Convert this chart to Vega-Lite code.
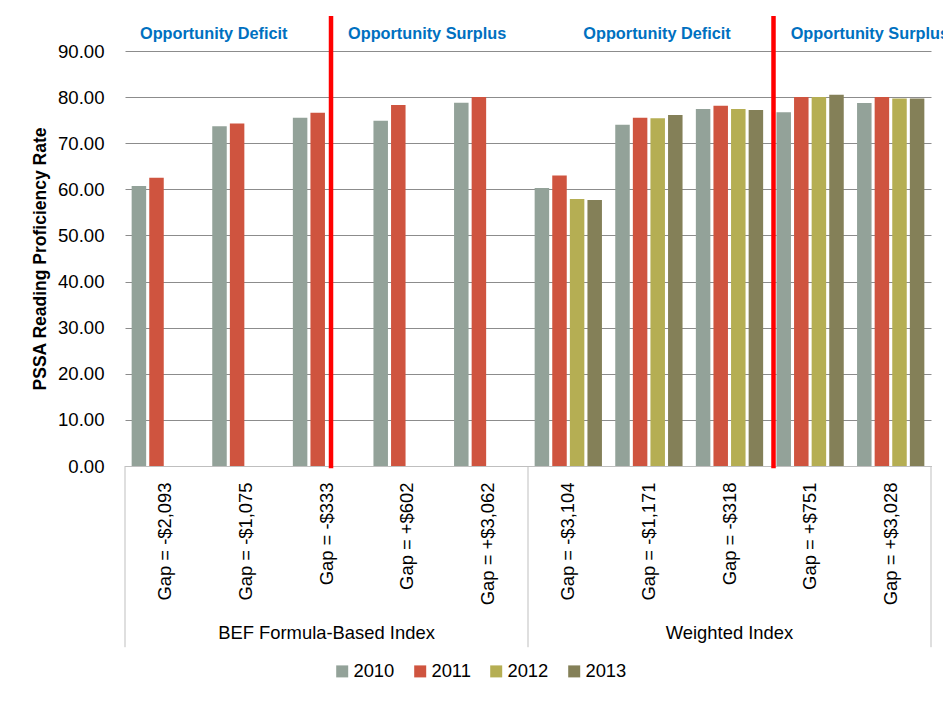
{
  "$schema": "https://vega.github.io/schema/vega-lite/v6.json",
  "width": 806,
  "height": 415,
  "autosize": {"type": "none"},
  "padding": {"left": 125, "top": 51, "right": 12, "bottom": 243},
  "background": "white",
  "config": {
    "font": "Liberation Sans",
    "view": {"stroke": null},
    "axis": {"labelColor": "#000000", "titleColor": "#000000"}
  },
  "layer": [
    {
      "data": {"values": [
        {"group": "BEF Formula-Based Index", "cat": "Gap = -$2,093", "year": "2010", "value": 60.7},
        {"group": "BEF Formula-Based Index", "cat": "Gap = -$2,093", "year": "2011", "value": 62.5},
        {"group": "BEF Formula-Based Index", "cat": "Gap = -$1,075", "year": "2010", "value": 73.7},
        {"group": "BEF Formula-Based Index", "cat": "Gap = -$1,075", "year": "2011", "value": 74.3},
        {"group": "BEF Formula-Based Index", "cat": "Gap = -$333", "year": "2010", "value": 75.5},
        {"group": "BEF Formula-Based Index", "cat": "Gap = -$333", "year": "2011", "value": 76.6},
        {"group": "BEF Formula-Based Index", "cat": "Gap = +$602", "year": "2010", "value": 74.9},
        {"group": "BEF Formula-Based Index", "cat": "Gap = +$602", "year": "2011", "value": 78.3},
        {"group": "BEF Formula-Based Index", "cat": "Gap = +$3,062", "year": "2010", "value": 78.8},
        {"group": "BEF Formula-Based Index", "cat": "Gap = +$3,062", "year": "2011", "value": 80.0},
        {"group": "Weighted Index", "cat": "Gap = -$3,104", "year": "2010", "value": 60.3},
        {"group": "Weighted Index", "cat": "Gap = -$3,104", "year": "2011", "value": 63.0},
        {"group": "Weighted Index", "cat": "Gap = -$3,104", "year": "2012", "value": 57.9},
        {"group": "Weighted Index", "cat": "Gap = -$3,104", "year": "2013", "value": 57.7},
        {"group": "Weighted Index", "cat": "Gap = -$1,171", "year": "2010", "value": 74.0},
        {"group": "Weighted Index", "cat": "Gap = -$1,171", "year": "2011", "value": 75.5},
        {"group": "Weighted Index", "cat": "Gap = -$1,171", "year": "2012", "value": 75.4},
        {"group": "Weighted Index", "cat": "Gap = -$1,171", "year": "2013", "value": 76.1},
        {"group": "Weighted Index", "cat": "Gap = -$318", "year": "2010", "value": 77.4},
        {"group": "Weighted Index", "cat": "Gap = -$318", "year": "2011", "value": 78.1},
        {"group": "Weighted Index", "cat": "Gap = -$318", "year": "2012", "value": 77.4},
        {"group": "Weighted Index", "cat": "Gap = -$318", "year": "2013", "value": 77.2},
        {"group": "Weighted Index", "cat": "Gap = +$751", "year": "2010", "value": 76.7},
        {"group": "Weighted Index", "cat": "Gap = +$751", "year": "2011", "value": 80.0},
        {"group": "Weighted Index", "cat": "Gap = +$751", "year": "2012", "value": 80.0},
        {"group": "Weighted Index", "cat": "Gap = +$751", "year": "2013", "value": 80.5},
        {"group": "Weighted Index", "cat": "Gap = +$3,028", "year": "2010", "value": 78.7},
        {"group": "Weighted Index", "cat": "Gap = +$3,028", "year": "2011", "value": 80.0},
        {"group": "Weighted Index", "cat": "Gap = +$3,028", "year": "2012", "value": 79.7},
        {"group": "Weighted Index", "cat": "Gap = +$3,028", "year": "2013", "value": 79.7}
      ]},
      "mark": {"type": "bar"},
      "encoding": {
        "x": {
          "field": "cat", "type": "nominal", "sort": null,
          "scale": {"domain": ["Gap = -$2,093", "Gap = -$1,075", "Gap = -$333", "Gap = +$602", "Gap = +$3,062", "Gap = -$3,104", "Gap = -$1,171", "Gap = -$318", "Gap = +$751", "Gap = +$3,028"], "paddingInner": 0, "paddingOuter": 0},
          "axis": {"title": null, "labelAngle": -90, "labelAlign": "right", "labelBaseline": "middle", "labelFontSize": 18.4, "labelPadding": 16, "ticks": false, "tickSize": 0, "domainColor": "#bfbfbf", "domainWidth": 1, "labelLimit": 300}
        },
        "xOffset": {
          "field": "year", "type": "nominal",
          "scale": {"domain": ["2010", "2011", "2012", "2013"], "paddingInner": 0.176, "paddingOuter": 0.378}
        },
        "y": {
          "field": "value", "type": "quantitative",
          "scale": {"domain": [0, 90], "nice": false, "zero": true},
          "axis": {"title": "PSSA Reading Proficiency Rate", "titleFontSize": 17.5, "titleFontWeight": "bold", "titlePadding": 8, "values": [0, 10, 20, 30, 40, 50, 60, 70, 80, 90], "format": ".2f", "labelFontSize": 18.6, "labelPadding": 21, "ticks": false, "domain": false, "grid": true, "gridColor": "#8c8c8c", "gridWidth": 1}
        },
        "color": {
          "field": "year", "type": "nominal",
          "scale": {"domain": ["2010", "2011", "2012", "2013"], "range": ["#93A299", "#CF543F", "#B5AE53", "#848058"]},
          "legend": {"orient": "none", "legendX": 208, "legendY": 611, "direction": "horizontal", "title": null, "symbolType": "square", "symbolSize": 144, "symbolStrokeWidth": 0, "labelFontSize": 18.4, "labelOffset": 2, "columnPadding": 16, "labelColor": "#000000"}
        }
      }
    },
    {
      "data": {"values": [{"cat": "Gap = -$2,093"}, {"cat": "Gap = -$3,104"}]},
      "mark": {"type": "rule", "color": "#bfbfbf", "strokeWidth": 1},
      "encoding": {
        "x": {"field": "cat", "type": "nominal", "bandPosition": 0, "title": null},
        "y": {"datum": 0, "type": "quantitative"},
        "y2": {"datum": -39.3}
      }
    },
    {
      "data": {"values": [{"cat": "Gap = +$3,028"}]},
      "mark": {"type": "rule", "color": "#bfbfbf", "strokeWidth": 1},
      "encoding": {
        "x": {"field": "cat", "type": "nominal", "bandPosition": 1, "title": null},
        "y": {"datum": 0, "type": "quantitative"},
        "y2": {"datum": -39.3}
      }
    },
    {
      "data": {"values": [{"cat": "Gap = -$333", "label": "BEF Formula-Based Index"}, {"cat": "Gap = -$318", "label": "Weighted Index"}]},
      "mark": {"type": "text", "fontSize": 18.4, "color": "#000000", "align": "center", "baseline": "middle"},
      "encoding": {
        "x": {"field": "cat", "type": "nominal", "bandPosition": 0.5, "title": null},
        "y": {"datum": -36.2, "type": "quantitative"},
        "text": {"field": "label"}
      }
    },
    {
      "data": {"values": [{"cat": "Gap = -$333"}]},
      "mark": {"type": "rule", "color": "#FF0000", "strokeWidth": 4.5},
      "encoding": {
        "x": {"field": "cat", "type": "nominal", "bandPosition": 0.556, "title": null},
        "y": {"datum": -0.5, "type": "quantitative"},
        "y2": {"datum": 97.6}
      }
    },
    {
      "data": {"values": [{"cat": "Gap = +$751"}]},
      "mark": {"type": "rule", "color": "#FF0000", "strokeWidth": 4.5},
      "encoding": {
        "x": {"field": "cat", "type": "nominal", "bandPosition": 0.046, "title": null},
        "y": {"datum": -0.5, "type": "quantitative"},
        "y2": {"datum": 97.6}
      }
    },
    {
      "data": {"values": [{"cat": "Gap = -$2,093", "label": "Opportunity Deficit"}]},
      "mark": {"type": "text", "fontSize": 16.3, "fontWeight": "bold", "color": "#0070C0", "align": "left", "baseline": "alphabetic"},
      "encoding": {
        "x": {"field": "cat", "type": "nominal", "bandPosition": 0.186, "title": null},
        "y": {"datum": 92.5, "type": "quantitative"},
        "text": {"field": "label"}
      }
    },
    {
      "data": {"values": [{"cat": "Gap = -$333", "label": "Opportunity Surplus"}]},
      "mark": {"type": "text", "fontSize": 16.3, "fontWeight": "bold", "color": "#0070C0", "align": "left", "baseline": "alphabetic"},
      "encoding": {
        "x": {"field": "cat", "type": "nominal", "bandPosition": 0.767, "title": null},
        "y": {"datum": 92.5, "type": "quantitative"},
        "text": {"field": "label"}
      }
    },
    {
      "data": {"values": [{"cat": "Gap = -$3,104", "label": "Opportunity Deficit"}]},
      "mark": {"type": "text", "fontSize": 16.3, "fontWeight": "bold", "color": "#0070C0", "align": "left", "baseline": "alphabetic"},
      "encoding": {
        "x": {"field": "cat", "type": "nominal", "bandPosition": 0.686, "title": null},
        "y": {"datum": 92.5, "type": "quantitative"},
        "text": {"field": "label"}
      }
    },
    {
      "data": {"values": [{"cat": "Gap = +$751", "label": "Opportunity Surplus"}]},
      "mark": {"type": "text", "fontSize": 16.3, "fontWeight": "bold", "color": "#0070C0", "align": "left", "baseline": "alphabetic"},
      "encoding": {
        "x": {"field": "cat", "type": "nominal", "bandPosition": 0.259, "title": null},
        "y": {"datum": 92.5, "type": "quantitative"},
        "text": {"field": "label"}
      }
    }
  ]
}
